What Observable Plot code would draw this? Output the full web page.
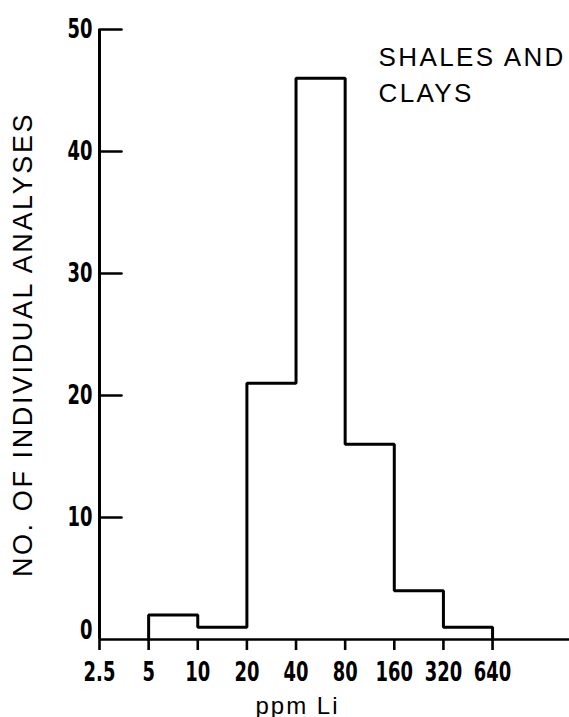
<!DOCTYPE html>
<html><head><meta charset="utf-8">
<script src="https://cdn.jsdelivr.net/npm/d3@7"></script>
<script src="https://cdn.jsdelivr.net/npm/@observablehq/plot@0.6"></script>
<style>
body{margin:0;background:#fff;}
</style>
</head><body><div id="chart"></div>
<script>
// ---- data ----
const binEdges = [5, 10, 20, 40, 80, 160, 320, 640];   // ppm Li class limits
const binCounts = [2, 1, 21, 46, 16, 4, 1];            // no. of analyses per class
const xTicks = [2.5, 5, 10, 20, 40, 80, 160, 320, 640];
const xTickLabels = ["2.5", "5", "10", "20", "40", "80", "160", "320", "640"];
const yTicksUpper = [10, 20, 30, 40, 50];
const yTicksZero = [0];
const xLabel = "ppm Li";
const yLabel = "NO. OF INDIVIDUAL ANALYSES";
const noteText = ["SHALES AND", "CLAYS"];

// step outline of the histogram
const outline = [{x: binEdges[0], y: 0}]
  .concat(binCounts.map((c, i) => ({x: binEdges[i], y: c})))
  .concat([{x: binEdges[binEdges.length - 1], y: 0}]);

const tickFont = "'DejaVu Sans', sans-serif";
const labelFont = "'Liberation Sans', Arial, Helvetica, sans-serif";

const tickLine = {draw(context, l) { context.moveTo(0, 0); context.lineTo(0, -l); }};

const plot = Plot.plot({
  width: 569,
  height: 717,
  marginTop: 29,
  marginBottom: 78,
  marginLeft: 99,
  marginRight: 0,
  style: {background: "#fff", color: "#000"},
  x: {type: "log", base: 2, domain: [2.5, 1895]},
  y: {domain: [0, 50]},
  marks: [
    // axis lines
    Plot.ruleY([0], {stroke: "#000", strokeWidth: 2.6}),
    Plot.ruleX([xTicks[0]], {y1: 0, y2: 50, stroke: "#000", strokeWidth: 3}),
    // x axis: ticks downward, bold condensed labels
    Plot.axisX(xTicks, {
      tickSize: 11, tickPadding: 12, strokeWidth: 2.6,
      tickFormat: (d) => xTickLabels[xTicks.indexOf(d)],
      fontFamily: tickFont, fontSize: 26, fontWeight: "bold", fill: "#000", stroke: "#000",
      label: null
    }),
    // y axis labels (ticks drawn inward separately)
    Plot.axisY(yTicksUpper, {
      tickSize: 0, tickPadding: 7,
      fontFamily: tickFont, fontSize: 26, fontWeight: "bold", fill: "#000", label: null
    }),
    Plot.axisY(yTicksZero, {
      tickSize: 0, tickPadding: 7, dy: -9,
      fontFamily: tickFont, fontSize: 26, fontWeight: "bold", fill: "#000", label: null
    }),
    // inward y ticks
    Plot.vector(yTicksUpper, {
      x: () => xTicks[0], y: (d) => d, length: 22, rotate: 90, anchor: "start",
      shape: tickLine, stroke: "#000", strokeWidth: 2.6
    }),
    // histogram outline
    Plot.line(outline, {
      x: "x", y: "y", curve: "step-after",
      stroke: "#000", strokeWidth: 3, strokeLinejoin: "miter", strokeLinecap: "square"
    }),
    // axis titles
    Plot.text([xLabel], {
      frameAnchor: "bottom", textAnchor: "middle", dx: -37, dy: 74, lineAnchor: "bottom",
      fontFamily: labelFont, fontSize: 24, fill: "#000"
    }),
    Plot.text([yLabel], {
      frameAnchor: "left", textAnchor: "middle", dx: -76, dy: 10, rotate: -90, lineAnchor: "middle",
      fontFamily: labelFont, fontSize: 27, fill: "#000"
    }),
    // annotation
    Plot.text([noteText.join("\n")], {
      frameAnchor: "top-right", textAnchor: "start", lineAnchor: "top",
      dx: -191, dy: 11, lineHeight: 1.38,
      fontFamily: labelFont, fontSize: 26, fill: "#000"
    })
  ]
});

const svg = d3.select(plot);
svg.selectAll("text")
  .filter(function () { return this.textContent === yLabel; })
  .attr("letter-spacing", "2.6px");
svg.selectAll("text")
  .filter(function () { return this.textContent === xLabel; })
  .attr("letter-spacing", "2px");
svg.selectAll("text")
  .filter(function () { return this.textContent.startsWith(noteText[0]); })
  .attr("letter-spacing", "2.4px");
svg.selectAll("g[aria-label='x-axis tick label'] text, g[aria-label='y-axis tick label'] text")
  .attr("transform", function () {
    const t = this.getAttribute("transform") || "";
    return (t + " scale(0.69,1)").trim();
  });

document.getElementById("chart").appendChild(plot);
</script>
</body></html>
